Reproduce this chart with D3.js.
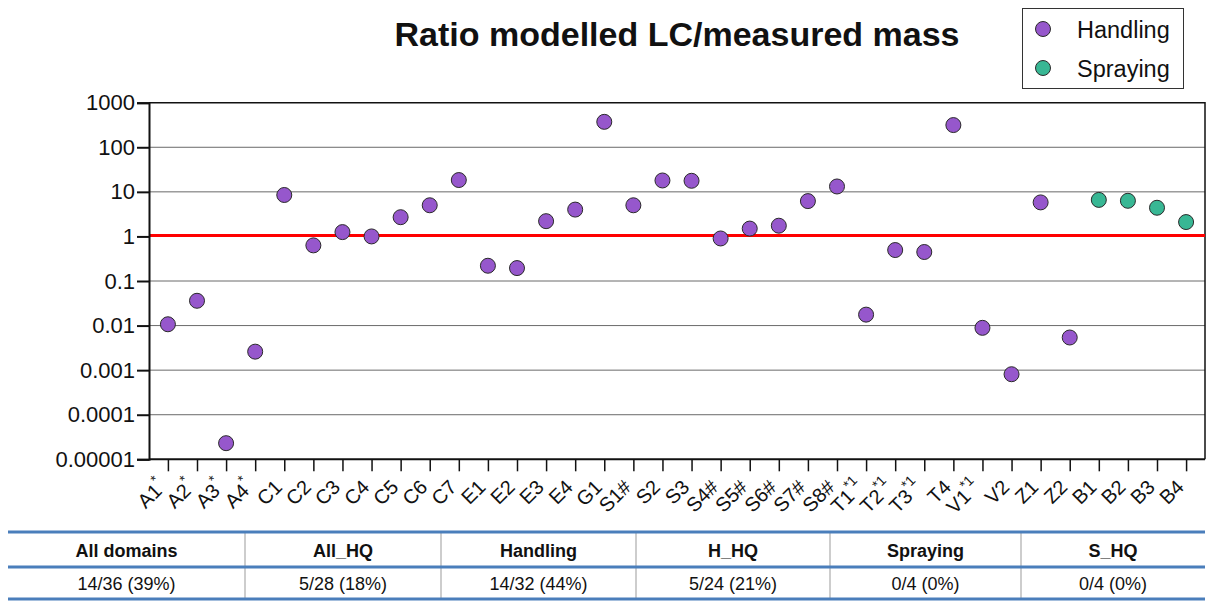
<!DOCTYPE html>
<html>
<head>
<meta charset="utf-8">
<script src="https://cdn.jsdelivr.net/npm/d3@7"></script>
<style>
  body { margin: 0; background: #fff; }
  svg { font-family: "Liberation Sans", Arial, sans-serif; }
</style>
</head>
<body>
<div id="chart"></div>
<script>
// categories along the x axis (trailing * or *1 is drawn as superscript)
var categories = ["A1*", "A2*", "A3*", "A4*", "C1", "C2", "C3", "C4", "C5", "C6", "C7",
  "E1", "E2", "E3", "E4", "G1", "S1#", "S2", "S3", "S4#", "S5#", "S6#", "S7#", "S8#",
  "T1*1", "T2*1", "T3*1", "T4", "V1*1", "V2", "Z1", "Z2", "B1", "B2", "B3", "B4"];

// ratio modelled LC / measured mass
var ratios = [0.0107, 0.036, 0.000023, 0.0026, 8.5, 0.63, 1.25, 1.0, 2.7, 5.0, 18.4,
  0.22, 0.195, 2.2, 4.0, 372, 5.0, 18, 17.7, 0.9, 1.5, 1.74, 6.2, 13.2,
  0.0176, 0.495, 0.447, 315, 0.0089, 0.00081, 5.8, 0.0054, 6.6, 6.3, 4.4, 2.1];

var domains = ["Handling", "Handling", "Handling", "Handling", "Handling", "Handling", "Handling",
  "Handling", "Handling", "Handling", "Handling", "Handling", "Handling", "Handling", "Handling",
  "Handling", "Handling", "Handling", "Handling", "Handling", "Handling", "Handling", "Handling",
  "Handling", "Handling", "Handling", "Handling", "Handling", "Handling", "Handling", "Handling",
  "Handling", "Spraying", "Spraying", "Spraying", "Spraying"];

var seriesNames = ["Handling", "Spraying"];
var seriesColors = ["#9657cc", "#38b794"];

var yTicks = [1000, 100, 10, 1, 0.1, 0.01, 0.001, 0.0001, 0.00001];
var yTickLabels = ["1000", "100", "10", "1", "0.1", "0.01", "0.001", "0.0001", "0.00001"];
var refLine = 1;

var tableHeaders = ["All domains", "All_HQ", "Handling", "H_HQ", "Spraying", "S_HQ"];
var tableValues = ["14/36 (39%)", "5/28 (18%)", "14/32 (44%)", "5/24 (21%)", "0/4 (0%)", "0/4 (0%)"];

var W = 1208, H = 601;
var plotLeft = 149, plotRight = 1205, plotTop = 102.7, plotBottom = 459.3;

var svg = d3.select("#chart").append("svg")
    .attr("width", W)
    .attr("height", H);

var x = d3.scalePoint().domain(categories).range([plotLeft, plotRight]).padding(0.65);
var y = d3.scaleLog().domain([0.00001, 1000]).range([plotBottom, plotTop]);
var color = d3.scaleOrdinal().domain(seriesNames).range(seriesColors);

// title
svg.append("text")
    .attr("x", 677)
    .attr("y", 46)
    .attr("text-anchor", "middle")
    .style("font-size", "34px")
    .style("font-weight", "bold")
    .attr("fill", "#111")
    .text("Ratio modelled LC/measured mass");

// grid lines
svg.append("g")
  .selectAll("line")
  .data(yTicks.slice(1, -1))
  .enter().append("line")
    .attr("x1", plotLeft)
    .attr("x2", plotRight)
    .attr("y1", function(d) { return y(d); })
    .attr("y2", function(d) { return y(d); })
    .attr("stroke", "#6a6a6a")
    .attr("stroke-width", 1);

// frame (top + right)
svg.append("path")
    .attr("d", "M" + plotLeft + "," + plotTop + "H" + plotRight + "V" + plotBottom)
    .attr("fill", "none")
    .attr("stroke", "#111")
    .attr("stroke-width", 1.5);

// reference line at 1
svg.append("line")
    .attr("x1", plotLeft)
    .attr("x2", plotRight)
    .attr("y1", y(refLine) - 1)
    .attr("y2", y(refLine) - 1)
    .attr("stroke", "#ff0000")
    .attr("stroke-width", 3);

// Y axis
var yAxis = d3.axisLeft(y)
    .tickValues(yTicks)
    .tickSize(12)
    .tickFormat(function(d) { return yTickLabels[yTicks.indexOf(d)]; });

var gy = svg.append("g")
    .attr("transform", "translate(" + plotLeft + ",0)")
    .call(yAxis);
gy.select(".domain").attr("stroke", "#111").attr("stroke-width", 2);
gy.selectAll(".tick line").attr("stroke", "#111").attr("stroke-width", 2);
gy.selectAll(".tick text")
    .attr("x", -14)
    .style("font-size", "22px")
    .style("font-family", "'Liberation Sans', Arial, sans-serif")
    .attr("fill", "#111");

// X axis
var xAxis = d3.axisBottom(x).tickSize(12).tickFormat("");
var gx = svg.append("g")
    .attr("transform", "translate(0," + plotBottom + ")")
    .call(xAxis);
gx.select(".domain").attr("stroke", "#111").attr("stroke-width", 2)
    .attr("d", "M" + plotLeft + ",0H" + plotRight);
gx.selectAll(".tick line").attr("stroke", "#111").attr("stroke-width", 1.5);

// rotated category labels with superscripts
var labels = svg.append("g").selectAll("text")
  .data(categories)
  .enter().append("text")
    .attr("text-anchor", "end")
    .attr("transform", function(d) { return "translate(" + (x(d) - 1) + "," + (plotBottom + 29) + ") rotate(-45)"; })
    .style("font-size", "20px")
    .attr("fill", "#111");

labels.each(function(d) {
  var m = d.match(/^(.*?)(\*1?)?$/);
  var t = d3.select(this);
  t.append("tspan").text(m[1]);
  if (m[2]) {
    t.append("tspan")
      .attr("dy", -10)
      .style("font-size", "14px")
      .text(m[2]);
  }
});

// points
svg.append("g")
  .selectAll("circle")
  .data(categories)
  .enter().append("circle")
    .attr("cx", function(d) { return x(d); })
    .attr("cy", function(d, i) { return y(ratios[i]); })
    .attr("r", 7.5)
    .attr("fill", function(d, i) { return color(domains[i]); })
    .attr("stroke", "#2a2a2a")
    .attr("stroke-width", 1);

// legend
var legend = svg.append("g");
legend.append("rect")
    .attr("x", 1022.5)
    .attr("y", 8.5)
    .attr("width", 161)
    .attr("height", 80)
    .attr("fill", "#fff")
    .attr("stroke", "#333")
    .attr("stroke-width", 1);

seriesNames.forEach(function(s, i) {
  legend.append("circle")
      .attr("cx", 1043)
      .attr("cy", 29 + i * 39)
      .attr("r", 7.5)
      .attr("fill", color(s))
      .attr("stroke", "#2a2a2a")
      .attr("stroke-width", 1);
  legend.append("text")
      .attr("x", 1077)
      .attr("y", 38 + i * 39)
      .style("font-size", "23.5px")
      .attr("fill", "#111")
      .text(s);
});

// summary table
var colEdges = [8, 245, 441, 636, 830, 1021, 1205];
var tTop = 532, tMid = 567, tBot = 599;
var table = svg.append("g");

colEdges.slice(1, -1).forEach(function(cx) {
  table.append("line")
      .attr("x1", cx).attr("x2", cx)
      .attr("y1", tTop).attr("y2", tBot)
      .attr("stroke", "#bdbdbd")
      .attr("stroke-width", 1.5);
});

[tTop, tMid, tBot].forEach(function(ty) {
  table.append("line")
      .attr("x1", colEdges[0]).attr("x2", colEdges[colEdges.length - 1])
      .attr("y1", ty).attr("y2", ty)
      .attr("stroke", "#4a7ebb")
      .attr("stroke-width", 3);
});

tableHeaders.forEach(function(h, i) {
  var cx = (colEdges[i] + colEdges[i + 1]) / 2;
  table.append("text")
      .attr("x", cx)
      .attr("y", 557)
      .attr("text-anchor", "middle")
      .style("font-size", "18px")
      .style("font-weight", "bold")
      .attr("fill", "#111")
      .text(h);
  table.append("text")
      .attr("x", cx)
      .attr("y", 590)
      .attr("text-anchor", "middle")
      .style("font-size", "18px")
      .attr("fill", "#111")
      .text(tableValues[i]);
});
</script>
</body>
</html>
